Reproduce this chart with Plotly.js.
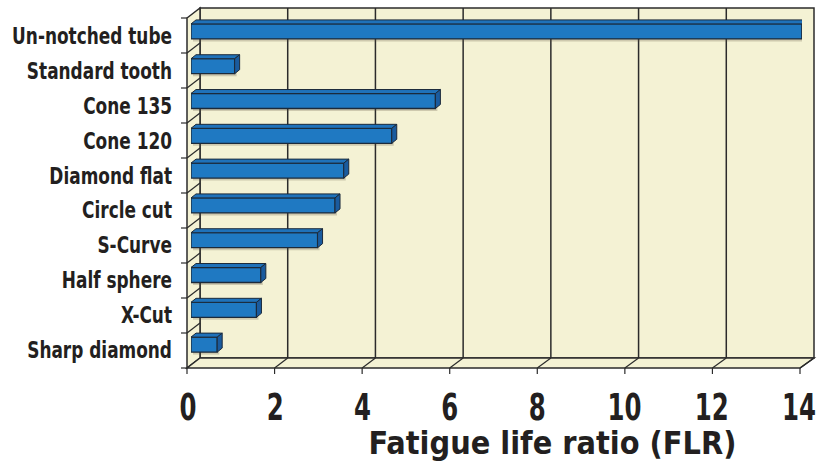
<!DOCTYPE html>
<html><head><meta charset="utf-8">
<script src="https://cdn.plot.ly/plotly-3.0.1.min.js"></script>
<style>html,body{margin:0;padding:0;background:#fff;}#chart{width:827px;height:464px;}</style>
</head><body><div id="chart"></div>
<script>
const categories = ['Un-notched tube','Standard tooth','Cone 135','Cone 120','Diamond flat','Circle cut','S-Curve','Half sphere','X-Cut','Sharp diamond'];
const flr = [14.0, 1.0, 5.6, 4.6, 3.5, 3.3, 2.9, 1.6, 1.5, 0.6];
const xTicks = [0, 2, 4, 6, 8, 10, 12, 14];
const xTitle = 'Fatigue life ratio (FLR)';

const W = 827, H = 464;
const L = 191, R = 802, T = 14, B = 362;
const PW = R - L, PH = B - T;
const FONT = "'Liberation Sans Narrow', 'DejaVu Sans Condensed', 'DejaVu Sans', sans-serif";
const BEIGE = '#f4f2d4', EDGE = '#2b2b2b', INK = '#231f20';

function px(x){ return (x - L) / PW; }
function py(y){ return 1 - (y - T) / PH; }
function pathPx(pts){ return 'M' + pts.map(p => px(p[0]) + ',' + py(p[1])).join('L') + 'Z'; }

const shapes = [];
const fx0 = 187, fx1 = 800, bx0 = 200, bx1 = 814, backTop = 8, backBot = 358, frontTop = 18, frontBot = 368;
shapes.push({type:'path', xref:'paper', yref:'paper', layer:'below', path: pathPx([[bx0,backTop],[bx1,backTop],[bx1,backBot],[bx0,backBot]]), fillcolor: BEIGE, line:{color:EDGE, width:1.5}});
shapes.push({type:'path', xref:'paper', yref:'paper', layer:'below', path: pathPx([[fx0,frontTop],[bx0,backTop],[bx0,backBot],[fx0,frontBot]]), fillcolor: BEIGE, line:{color:EDGE, width:1.5}});
shapes.push({type:'path', xref:'paper', yref:'paper', layer:'below', path: pathPx([[fx0,frontBot],[fx1,frontBot],[bx1,backBot],[bx0,backBot]]), fillcolor: BEIGE, line:{color:EDGE, width:1.5}});
const nT = xTicks.length - 1;
xTicks.forEach((t, k) => {
  const bx = bx0 + k * (bx1 - bx0) / nT;
  const fx = fx0 + k * (fx1 - fx0) / nT;
  if (k > 0 && k < nT) shapes.push({type:'line', xref:'paper', yref:'paper', layer:'below', x0:px(bx), x1:px(bx), y0:py(backTop), y1:py(backBot), line:{color:EDGE, width:1.5}});
  if (k > 0) shapes.push({type:'line', xref:'paper', yref:'paper', layer:'below', x0:px(fx), x1:px(bx), y0:py(frontBot), y1:py(backBot), line:{color:EDGE, width:1.2}});
  shapes.push({type:'line', xref:'paper', yref:'paper', layer:'below', x0:px(fx), x1:px(fx), y0:py(frontBot), y1:py(frontBot+6), line:{color:EDGE, width:1.2}});
});
for (let j = 0; j <= categories.length; j++) {
  const fy = frontTop + j * (frontBot - frontTop) / categories.length;
  const by = backTop + j * (backBot - backTop) / categories.length;
  shapes.push({type:'line', xref:'paper', yref:'paper', layer:'below', x0:px(fx0-6), x1:px(fx0), y0:py(fy), y1:py(fy), line:{color:EDGE, width:1.2}});
  if (j > 0 && j < categories.length) shapes.push({type:'line', xref:'paper', yref:'paper', layer:'below', x0:px(fx0), x1:px(bx0), y0:py(fy), y1:py(by), line:{color:EDGE, width:1.2}});
}

const bw = 0.43;
const ddx = 5 * 14 / PW;
const ddy = 4 / (PH / 10);
const yIdx = categories.map((c, i) => i);
const sx = 2 * 14 / PW, sy = 2.5 / (PH / 10);
const traces = [];
traces.push({type:'bar', orientation:'h', x: flr, base: sx, y: yIdx.map(j => j + sy), width: bw, marker:{color:'rgba(90,80,60,0.25)', line:{width:0}}, hoverinfo:'skip', showlegend:false});
traces.push({type:'bar', orientation:'h', x: flr, y: yIdx, width: bw, marker:{color:'#1f79c2', line:{color:'#1c2a3a', width:1.3}}, hoverinfo:'skip', showlegend:false});
flr.forEach((v, j) => {
  const y0 = j - bw/2, y1 = j + bw/2;
  traces.push({type:'scatter', mode:'lines', x:[0, v, v+ddx, ddx, 0], y:[y0, y0, y0-ddy, y0-ddy, y0], fill:'toself', fillcolor:'#1f72ba', line:{color:'#1c2a3a', width:1}, hoverinfo:'skip', showlegend:false});
  traces.push({type:'scatter', mode:'lines', x:[v, v+ddx, v+ddx, v, v], y:[y0, y0-ddy, y1-ddy, y1, y0], fill:'toself', fillcolor:'#1a5b9e', line:{color:'#1c2a3a', width:1}, hoverinfo:'skip', showlegend:false});
});

const layout = {
  width: W, height: H, autosize: false,
  margin: {l: L, r: W - R, t: T, b: H - B, pad: 0},
  paper_bgcolor: '#ffffff', plot_bgcolor: 'rgba(0,0,0,0)',
  showlegend: false, barmode: 'overlay',
  xaxis: {range:[0,14], tickvals: xTicks, ticktext: xTicks.map(String), showgrid:false, zeroline:false, showline:false, ticks:'',
          tickfont:{family:FONT, size:37, color:INK, weight:700}, ticklabelstandoff: 20, ticklabelshift: -3, fixedrange:true},
  yaxis: {range:[9.5,-0.5], tickvals: yIdx, ticktext: categories, showgrid:false, zeroline:false, showline:false, ticks:'',
          tickfont:{family:FONT, size:23, color:INK, weight:700}, ticklabelstandoff: 18, ticklabelshift: -5, fixedrange:true},
  shapes: shapes,
  annotations: [{text: xTitle, xref:'paper', yref:'paper', x: px(552), y: py(443), xanchor:'center', yanchor:'middle', showarrow:false,
                 font:{family:FONT, size:32, color:INK, weight:700}}]
};

function squeeze(nodes, s, mode){
  nodes.forEach(el => {
    const bb = el.getBBox();
    const ax = mode === 'end' ? bb.x + bb.width : bb.x + bb.width / 2;
    const prev = el.getAttribute('transform') || '';
    el.setAttribute('transform', prev + ' translate(' + ax + ',0) scale(' + s + ',1) translate(' + (-ax) + ',0)');
  });
}
Plotly.newPlot('chart', traces, layout, {displayModeBar:false, staticPlot:true}).then(gd => {
  const yt = Array.from(gd.querySelectorAll('.ytick text'));
  const ref = yt.find(t => t.textContent === categories[0]);
  if (ref) squeeze(yt, 160 / ref.getBBox().width, 'end');
  const xt = Array.from(gd.querySelectorAll('.xtick text'));
  const ref14 = xt.find(t => t.textContent === '14');
  if (ref14) squeeze(xt, 34 / ref14.getBBox().width, 'mid');
  const at = Array.from(gd.querySelectorAll('.annotation-text'));
  if (at.length) squeeze(at, 368 / at[0].getBBox().width, 'mid');
});
</script></body></html>
